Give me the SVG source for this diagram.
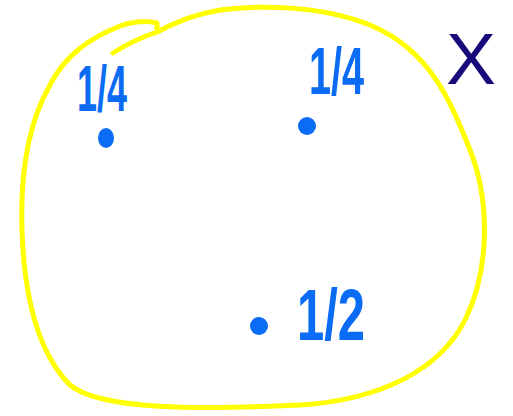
<svg xmlns="http://www.w3.org/2000/svg" width="513" height="416" viewBox="0 0 513 416">
<style>
.blob{fill:none;stroke:#ffff00;stroke-width:5;stroke-linecap:round;stroke-linejoin:round}
.dot{fill:#0a6cf5}
.lbl{font-family:"Liberation Sans",Arial,sans-serif;font-weight:bold;fill:#0a6cf5}
.x{font-family:"Liberation Sans",Arial,sans-serif;fill:#170a7a}
</style>
<rect width="513" height="416" fill="#ffffff"/>
<g id="set">
<path class="blob" d="M113,53 C130,42 145,36 157,32 L157,23 C145,20 132,22 120,26 C90,38 65,55 50,85 C30,120 20,170 22,230 C24,290 35,350 70,385 C100,410 200,410 300,405 C380,400 440,370 465,320 C490,270 490,200 470,150 C450,100 430,50 370,25 C320,5 260,5 220,10 C190,15 170,25 157,32"/>
</g>
<g id="label-X"><text class="x" x="446" y="84" font-size="72" textLength="50" lengthAdjust="spacingAndGlyphs">X</text></g>
<g id="point-a">
<ellipse class="dot" cx="106" cy="138" rx="8" ry="10"/>
<text class="lbl" x="77" y="111" font-size="64" textLength="50" lengthAdjust="spacingAndGlyphs">1/4</text>
</g>
<g id="point-b">
<circle class="dot" cx="307" cy="126" r="9"/>
<text class="lbl" x="309" y="94" font-size="66" textLength="55" lengthAdjust="spacingAndGlyphs">1/4</text>
</g>
<g id="point-c">
<circle class="dot" cx="259" cy="326" r="9"/>
<text class="lbl" x="297" y="340" font-size="72" textLength="68" lengthAdjust="spacingAndGlyphs">1/2</text>
</g>
</svg>
